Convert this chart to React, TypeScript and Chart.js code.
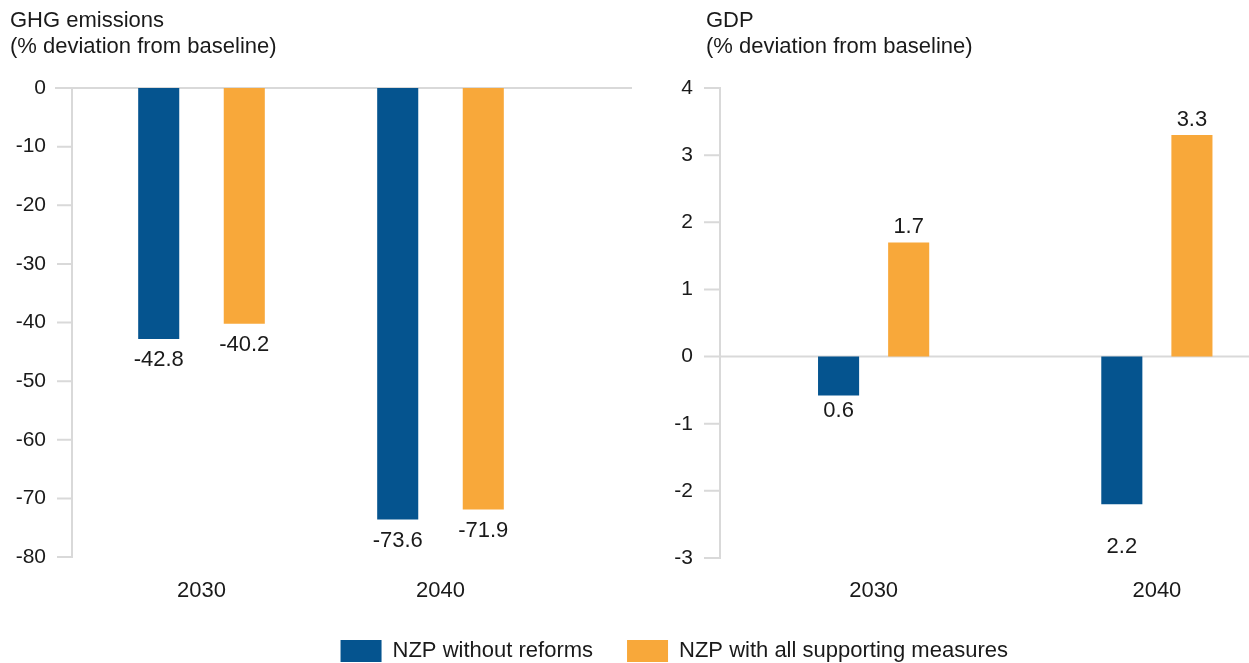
import { useEffect, useRef } from 'react';
import { Chart, registerables } from 'chart.js';

Chart.register(...registerables);

// ---- data ----
const categories = ['2030', '2040'];
const seriesNames = ['NZP without reforms', 'NZP with all supporting measures'];
const ghgWithoutReforms = [-42.8, -73.6];
const ghgAllMeasures = [-40.2, -71.9];
const gdpWithoutReforms = [-0.58, -2.2];
const gdpAllMeasures = [1.7, 3.3];
const ghgTitle = ['GHG emissions', '(% deviation from baseline)'];
const gdpTitle = ['GDP', '(% deviation from baseline)'];
const ghgRange = { min: -80, max: 0, step: 10 };
const gdpRange = { min: -3, max: 4, step: 1 };

// ---- style ----
const BLUE = '#05548F';
const ORANGE = '#F8A83A';
const TEXT = '#1a1a1a';
const GRID = '#d9d9d9';
const FONT = "'Liberation Sans', Arial, sans-serif";

const decorPlugin = {
  id: 'decor',
  beforeDatasetsDraw(chart: any, _args: any, opts: any) {
    const { ctx, chartArea } = chart;
    const y = chart.scales.y;
    const ax = chartArea.left - opts.gap;
    ctx.save();
    ctx.strokeStyle = GRID;
    ctx.lineWidth = 2;
    ctx.beginPath();
    ctx.moveTo(ax, y.getPixelForValue(y.max) - 1);
    ctx.lineTo(ax, y.getPixelForValue(y.min) + 1);
    y.ticks.forEach((t: any) => {
      const py = y.getPixelForValue(t.value);
      ctx.moveTo(ax - opts.tickLen, py);
      ctx.lineTo(ax, py);
    });
    const zy = y.getPixelForValue(0);
    ctx.moveTo(ax - opts.zeroBefore, zy);
    ctx.lineTo(chartArea.right + opts.zeroAfter, zy);
    ctx.stroke();
    ctx.restore();
  },
};

const titlePlugin = {
  id: 'panelTitle',
  afterDraw(chart: any, _args: any, opts: any) {
    const { ctx } = chart;
    ctx.save();
    ctx.fillStyle = TEXT;
    ctx.font = `${opts.size}px ${FONT}`;
    ctx.textAlign = 'left';
    ctx.textBaseline = 'alphabetic';
    (opts.lines as string[]).forEach((line, i) => {
      ctx.fillText(line, opts.x, opts.baselines[i]);
    });
    ctx.restore();
  },
};

const valueLabelPlugin = {
  id: 'valueLabels',
  afterDatasetsDraw(chart: any, _args: any, opts: any) {
    const { ctx } = chart;
    ctx.save();
    ctx.fillStyle = TEXT;
    ctx.font = `${opts.size}px ${FONT}`;
    ctx.textAlign = 'center';
    ctx.textBaseline = 'middle';
    chart.data.datasets.forEach((ds: any, i: number) => {
      const meta = chart.getDatasetMeta(i);
      meta.data.forEach((bar: any, j: number) => {
        const v = ds.data[j] as number;
        const txt = opts.absolute ? Math.abs(v).toFixed(1) : v.toFixed(1);
        const extra = (opts.nudge && opts.nudge[`${i}-${j}`]) || 0;
        const py = v < 0 ? bar.y + opts.offset + extra : bar.y - opts.offset - extra;
        ctx.fillText(txt, bar.x, py);
      });
    });
    ctx.restore();
  },
};

function makeConfig(p: {
  a: number[];
  b: number[];
  range: { min: number; max: number; step: number };
  yWidth: number;
  yPad: number;
  xHeight: number;
  xPad: number;
  padRight: number;
  barPct: number;
  catPct: number;
  legend: boolean;
  decor: any;
  title: any;
  labels: any;
}): any {
  return {
    type: 'bar',
    data: {
      labels: categories,
      datasets: [
        {
          label: seriesNames[0],
          data: p.a,
          backgroundColor: BLUE,
          borderWidth: 0,
          barPercentage: p.barPct,
          categoryPercentage: p.catPct,
        },
        {
          label: seriesNames[1],
          data: p.b,
          backgroundColor: ORANGE,
          borderWidth: 0,
          barPercentage: p.barPct,
          categoryPercentage: p.catPct,
        },
      ],
    },
    options: {
      responsive: false,
      maintainAspectRatio: false,
      animation: false,
      devicePixelRatio: 1,
      layout: { padding: { top: 88, left: 0, right: p.padRight, bottom: 0 } },
      scales: {
        x: {
          type: 'category',
          grid: { display: false },
          border: { display: false },
          ticks: { color: TEXT, font: { family: FONT, size: 22 }, padding: p.xPad, maxRotation: 0 },
          afterFit: (s: any) => {
            s.height = p.xHeight;
          },
        },
        y: {
          min: p.range.min,
          max: p.range.max,
          grid: { display: false, drawTicks: false },
          border: { display: false },
          ticks: {
            stepSize: p.range.step,
            color: TEXT,
            font: { family: FONT, size: 21 },
            padding: p.yPad,
          },
          afterFit: (s: any) => {
            s.width = p.yWidth;
          },
        },
      },
      plugins: {
        legend: {
          display: p.legend,
          position: 'bottom',
          maxHeight: 57,
          labels: {
            boxWidth: 41,
            boxHeight: 22,
            padding: 34,
            color: TEXT,
            font: { family: FONT, size: 22 },
          },
        },
        tooltip: { enabled: false },
        decor: p.decor,
        panelTitle: p.title,
        valueLabels: p.labels,
      },
    },
    plugins: [decorPlugin, titlePlugin, valueLabelPlugin],
  };
}

export default function App() {
  const leftRef = useRef<HTMLCanvasElement | null>(null);
  const rightRef = useRef<HTMLCanvasElement | null>(null);

  useEffect(() => {
    if (!leftRef.current || !rightRef.current) return;
    const left = new Chart(
      leftRef.current,
      makeConfig({
        a: ghgWithoutReforms,
        b: ghgAllMeasures,
        range: ghgRange,
        yWidth: 82,
        yPad: 36,
        xHeight: 106,
        xPad: 13,
        padRight: 80,
        barPct: 0.48,
        catPct: 0.716,
        legend: false,
        decor: { gap: 10, tickLen: 15, zeroBefore: 17, zeroAfter: 72 },
        title: { x: 10, lines: ghgTitle, baselines: [27, 53], size: 22 },
        labels: { offset: 21, size: 22, absolute: false },
      })
    );
    const right = new Chart(
      rightRef.current,
      makeConfig({
        a: gdpWithoutReforms,
        b: gdpAllMeasures,
        range: gdpRange,
        yWidth: 682,
        yPad: 39,
        xHeight: 48,
        xPad: 12,
        padRight: 1.5,
        barPct: 0.586,
        catPct: 0.495,
        legend: true,
        decor: { gap: 12, tickLen: 16, zeroBefore: 16, zeroAfter: 0 },
        title: { x: 656, lines: gdpTitle, baselines: [27, 53], size: 22 },
        labels: { offset: 15, size: 22, absolute: true, nudge: { '0-1': 28 } },
      })
    );
    return () => {
      left.destroy();
      right.destroy();
    };
  }, []);

  return (
    <div
      style={{
        position: 'fixed',
        left: 0,
        top: 0,
        width: 1249,
        height: 663,
        overflow: 'hidden',
        background: '#ffffff',
      }}
    >
      <canvas
        ref={leftRef}
        width={640}
        height={663}
        style={{ position: 'absolute', left: 0, top: 0, width: 640, height: 663 }}
      />
      <canvas
        ref={rightRef}
        width={1250}
        height={663}
        style={{ position: 'absolute', left: 50, top: 0, width: 1250, height: 663 }}
      />
    </div>
  );
}
